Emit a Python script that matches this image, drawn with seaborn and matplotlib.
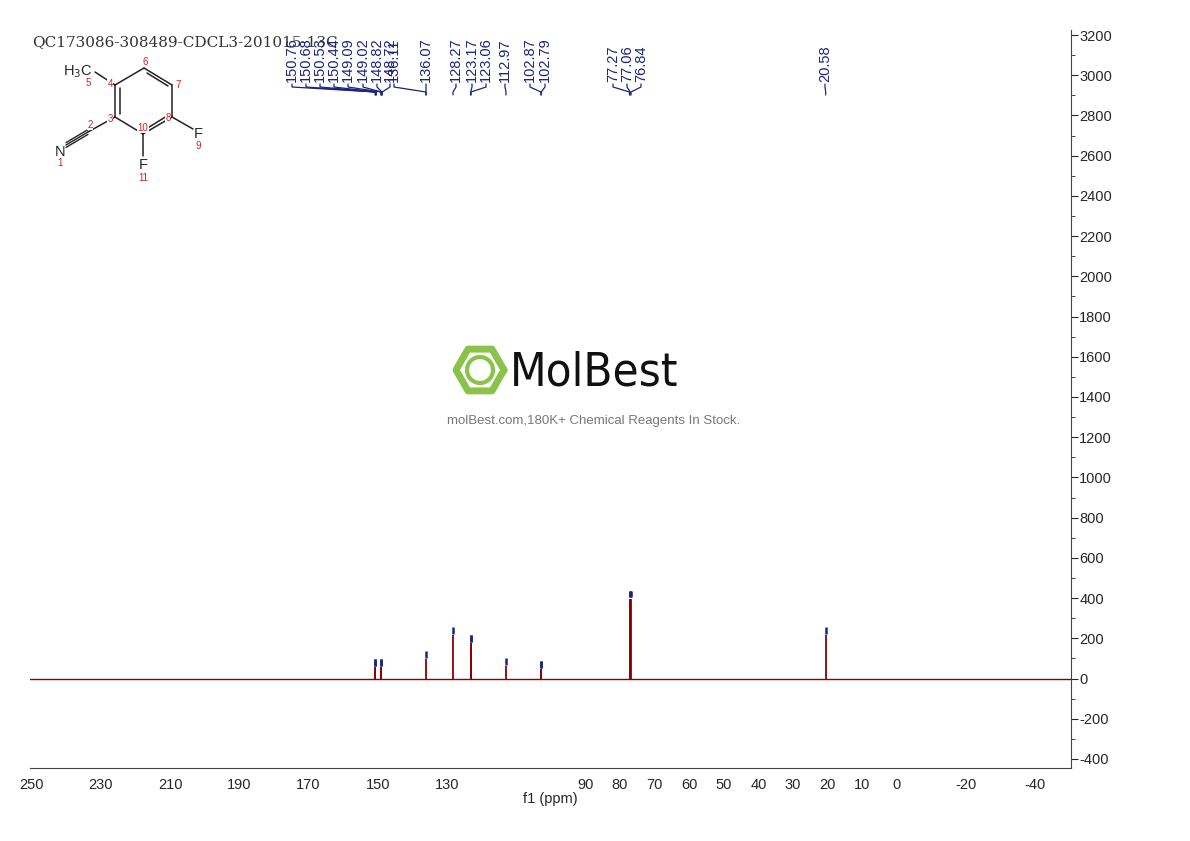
import numpy as np
import seaborn as sns
from matplotlib import pyplot as plt
from matplotlib.ticker import FuncFormatter

sns.set_style("white")
plt.rcParams['font.family'] = ['Liberation Sans', 'DejaVu Sans']
plt.rcParams['axes.unicode_minus'] = False

# peak positions (ppm) and heights
peak_ppm = [150.76, 150.68, 149.09, 149.02, 136.07, 128.27, 123.17, 123.06, 112.97, 102.87, 102.79, 77.27, 77.06, 76.84, 20.58]
peak_height = [55, 55, 55, 55, 95, 215, 175, 175, 60, 45, 45, 395, 395, 395, 215]

# picked labels at the top
label_ppm = [150.76, 150.68, 150.53, 150.44, 149.09, 149.02, 148.82, 148.72, 136.11, 136.07,
             128.27, 123.17, 123.06, 112.97, 102.87, 102.79, 77.27, 77.06, 76.84, 20.58]
label_px = [292, 306, 320, 334, 348, 363, 377, 390, 394, 426,
            456, 472, 486, 505, 530, 545, 613, 627, 641, 825]

xtick_labels = [250, 230, 210, 190, 170, 150, 130, 90, 80, 70, 60, 50, 40, 30, 20, 10, 0, -20, -40]
ytick_vals = list(range(-400, 3201, 200))

W, H = 1190, 841
fig = plt.figure(figsize=(W / 100, H / 100), dpi=100)
ax = fig.add_axes([30 / W, 1 - 768 / H, 1041 / W, 738 / H])
ax.set_xlim(250.5, -50.3)
ax.set_ylim(-445, 3225)

red = '#8b0000'
blue = '#1a237e'
ax.axhline(0, color=red, lw=1.0)
ax.vlines(peak_ppm, 0, peak_height, color=red, lw=1.3)
ax.vlines(peak_ppm, [h + 8 for h in peak_height], [h + 40 for h in peak_height], color=blue, lw=1.8)

for s in ['top', 'left']:
    ax.spines[s].set_visible(False)
ax.spines['right'].set_color('#444444')
ax.spines['bottom'].set_color('#444444')
ax.yaxis.tick_right()
ax.set_yticks(ytick_vals)
ax.set_yticks(range(-400, 3201, 100), minor=True)
ax.yaxis.set_major_formatter(FuncFormatter(lambda v, p: f'{v:.0f}'))
ax.tick_params(axis='y', which='major', direction='out', length=5, labelsize=10.5, pad=1)
ax.tick_params(axis='y', which='minor', direction='out', length=3)
ax.set_xticks(xtick_labels)
ax.xaxis.set_major_formatter(FuncFormatter(lambda v, p: f'{v:.0f}'))
ax.set_xticks(range(-50, 251, 5), minor=True)
ax.tick_params(axis='x', which='major', direction='out', length=5, labelsize=10.5, pad=2)
ax.tick_params(axis='x', which='minor', direction='out', length=3)
ax.set_xlabel('f1 (ppm)', fontsize=10.5, labelpad=0)

# overlay in pixel coordinates for labels, structure and watermark
ov = fig.add_axes([0, 0, 1, 1], facecolor='none')
ov.set_xlim(0, W)
ov.set_ylim(H, 0)
ov.axis('off')

ov.text(32, 42, 'QC173086-308489-CDCL3-201015-13C', fontsize=11, family='DejaVu Serif',
        va='center', color='#333333')

to_px = lambda ppm: ax.transData.transform((ppm, 0))[0]
for ppm, lx in zip(label_ppm, label_px):
    ov.text(lx, 82, f'{ppm:.2f}', rotation=90, fontsize=10.5, color=blue,
            ha='center', va='bottom')
    px = to_px(ppm)
    ov.plot([lx, lx, px, px], [84, 87, 92, 95], color=blue, lw=0.9)

# structure
bonds = [((115, 85), (144, 68)), ((144, 68), (172, 85)), ((172, 85), (172, 117)),
         ((172, 117), (143, 134)), ((143, 134), (115, 117)), ((115, 117), (115, 85)),
         ((115, 85), (95, 72)), ((115, 117), (88, 132)), ((172, 117), (193, 129)),
         ((143, 134), (143, 156))]
for (x1, y1), (x2, y2) in bonds:
    ov.plot([x1, x2], [y1, y2], color='#222222', lw=1.1)
for (x1, y1), (x2, y2) in [((147, 73), (168, 86)), ((120, 88), (120, 114)), ((146, 129), (167, 116))]:
    ov.plot([x1, x2], [y1, y2], color='#222222', lw=1.1)
for d in (-3, 0, 3):
    ov.plot([88, 66], [132 + d * 0.8, 145 + d * 0.8], color='#222222', lw=1.0)
ov.text(78, 72, 'H$_3$C', fontsize=10.5, ha='center', va='center')
ov.text(60, 152, 'N', fontsize=10.5, ha='center', va='center')
ov.text(198, 134, 'F', fontsize=10.5, ha='center', va='center')
ov.text(143, 165, 'F', fontsize=10.5, ha='center', va='center')
for t, x, y in [('1', 60, 163), ('2', 90, 125), ('3', 110, 119), ('4', 110, 84), ('5', 88, 83),
                ('6', 145, 62), ('7', 178, 85), ('8', 168, 118), ('9', 198, 146),
                ('10', 143, 128), ('11', 143, 178)]:
    ov.text(x, y, t, fontsize=7, color='#cc2222', ha='center', va='center',
            bbox=dict(fc='white', ec='none', pad=0.3))

# watermark
hexa = np.array([[0, 1], [0.87, 0.5], [0.87, -0.5], [0, -1], [-0.87, -0.5], [-0.87, 0.5], [0, 1]])
ov.plot(480 + 24 * hexa[:, 1], 370 + 24 * hexa[:, 0], color='#8bc34a', lw=5)
ov.add_patch(plt.Circle((480, 370), 13, fill=False, color='#8bc34a', lw=3))
ov.text(510, 373, 'MolBest', fontsize=34, ha='left', va='center', color='#111111',
        family='DejaVu Sans', stretch='condensed')
ov.text(594, 421, 'molBest.com,180K+ Chemical Reagents In Stock.', fontsize=9.5,
        ha='center', va='center', color='#777777')

fig.savefig('out.png', dpi=100)
